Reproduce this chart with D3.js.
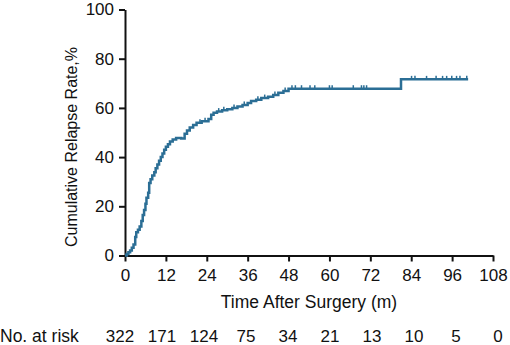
<!DOCTYPE html>
<html>
<head>
<meta charset="utf-8">
<script src="https://cdn.jsdelivr.net/npm/d3@7"></script>
<style>
body { margin: 0; background: #fff; }
text { font-family: "Liberation Sans", Arial, sans-serif; }
</style>
</head>
<body>
<div id="chart-area"></div>
<script>
// step curve: [months, cumulative %]
var curveTimes = [0, 0.5, 1.0, 1.5, 2.0, 2.5, 3.0, 3.3, 3.8, 4.3, 4.8, 5.2, 5.6, 6.0, 6.3, 6.8,
    7.1, 7.5, 8.0, 8.6, 9.0, 9.5, 10.0, 10.5, 11.0, 11.5, 12.0, 12.6, 13.2, 14.0, 15.0, 16.5,
    17.5, 18.2, 19.0, 20.0, 21.0, 22.5, 24.5, 25.3, 26.0, 27.0, 28.5, 30.0, 31.5, 33.0, 34.5,
    36.0, 37.0, 38.5, 40.0, 42.0, 43.5, 45.0, 46.5, 48.0, 81.0, 100.7];
var curveValues = [0, 0.6, 1.3, 2.0, 3.2, 4.5, 7.5, 9.5, 10.5, 11.8, 14, 16.5, 18.5, 21, 23.5, 25.5,
    29.5, 31, 32.5, 33.8, 35.5, 37, 38.5, 40, 41.5, 43, 44.2, 45.2, 46.3, 47.2, 47.8, 47.6,
    49.5, 50.8, 52, 53, 54, 54.6, 55.5, 57.2, 58, 58.5, 59, 59.5, 60, 60.6, 61.2,
    62, 62.8, 63.3, 64, 64.5, 65.2, 66.2, 66.9, 67.8, 71.6, 71.6];
// censored observations (months)
var censorTimes = [22, 23.5, 27.5, 29, 32, 35, 39, 41, 44, 47, 49, 50, 51.8, 54.3, 55.7, 60, 60.8,
    67, 69.4, 70.1, 70.9, 84.1, 85.1, 88.5, 91.3, 93.2, 94.4, 95.9, 97.3, 98.3, 100.3];
var riskTimes = [0, 12, 24, 36, 48, 60, 72, 84, 96, 108];
var riskCounts = [322, 171, 124, 75, 34, 21, 13, 10, 5, 0];
var xTicks = [0, 12, 24, 36, 48, 60, 72, 84, 96, 108];
var yTicks = [0, 20, 40, 60, 80, 100];

var W = 510, H = 345;
var lineColor = "#2b6e95";
var svg = d3.select("#chart-area").append("svg")
    .attr("width", W)
    .attr("height", H);

var x = d3.scaleLinear().domain([0, 108]).range([125, 493]);
var y = d3.scaleLinear().domain([0, 100]).range([255.5, 9.5]);

var xAxis = d3.axisBottom(x).tickValues(xTicks).tickSize(6).tickPadding(7).tickSizeOuter(0);
var yAxis = d3.axisLeft(y).tickValues(yTicks).tickSize(6).tickPadding(5).tickSizeOuter(0);

var xg = svg.append("g")
    .attr("transform", "translate(0," + y(0) + ")")
    .call(xAxis);
var yg = svg.append("g")
    .attr("transform", "translate(" + x(0) + ",0)")
    .call(yAxis);
[xg, yg].forEach(function(g) {
    g.selectAll("path, line").attr("stroke", "#111").attr("stroke-width", 2);
    g.selectAll("text").attr("font-size", "17px").attr("fill", "#111")
        .attr("font-family", "Liberation Sans, Arial, sans-serif");
});

// curve
var pts = curveTimes.map(function(t, i) { return [t, curveValues[i]]; });
var line = d3.line()
    .x(function(d) { return x(d[0]); })
    .y(function(d) { return y(d[1]); })
    .curve(d3.curveStepAfter);
svg.append("path")
    .datum(pts)
    .attr("fill", "none")
    .attr("stroke", lineColor)
    .attr("stroke-width", 2.5)
    .attr("d", line);

// censor marks sit on the step value at that time
function valueAt(t) {
    var v = 0;
    for (var i = 0; i < curveTimes.length; i++) {
        if (curveTimes[i] <= t) v = curveValues[i];
    }
    return v;
}
svg.append("g").selectAll("line")
    .data(censorTimes)
    .enter().append("line")
    .attr("x1", function(d) { return x(d); })
    .attr("x2", function(d) { return x(d); })
    .attr("y1", function(d) { return y(valueAt(d)); })
    .attr("y2", function(d) { return y(valueAt(d)) - 3.5; })
    .attr("stroke", lineColor)
    .attr("stroke-width", 1.5);

// axis labels
svg.append("text")
    .attr("x", x(54))
    .attr("y", 308)
    .attr("text-anchor", "middle")
    .attr("font-size", "17.5px")
    .attr("fill", "#111")
    .text("Time After Surgery (m)");
svg.append("text")
    .attr("transform", "translate(77," + 147 + ") rotate(-90)")
    .attr("text-anchor", "middle")
    .attr("font-size", "16px")
    .attr("fill", "#111")
    .text("Cumulative Relapse Rate,%");

// number at risk
var xr = d3.scaleLinear().domain([0, 108]).range([120, 498]);
svg.append("text")
    .attr("x", 0)
    .attr("y", 342)
    .attr("font-size", "17.5px")
    .attr("fill", "#111")
    .text("No. at risk");
svg.append("g").selectAll("text")
    .data(riskCounts)
    .enter().append("text")
    .attr("x", function(d, i) { return xr(riskTimes[i]); })
    .attr("y", 342)
    .attr("text-anchor", "middle")
    .attr("font-size", "17px")
    .attr("fill", "#111")
    .text(function(d) { return d; });
</script>
</body>
</html>
